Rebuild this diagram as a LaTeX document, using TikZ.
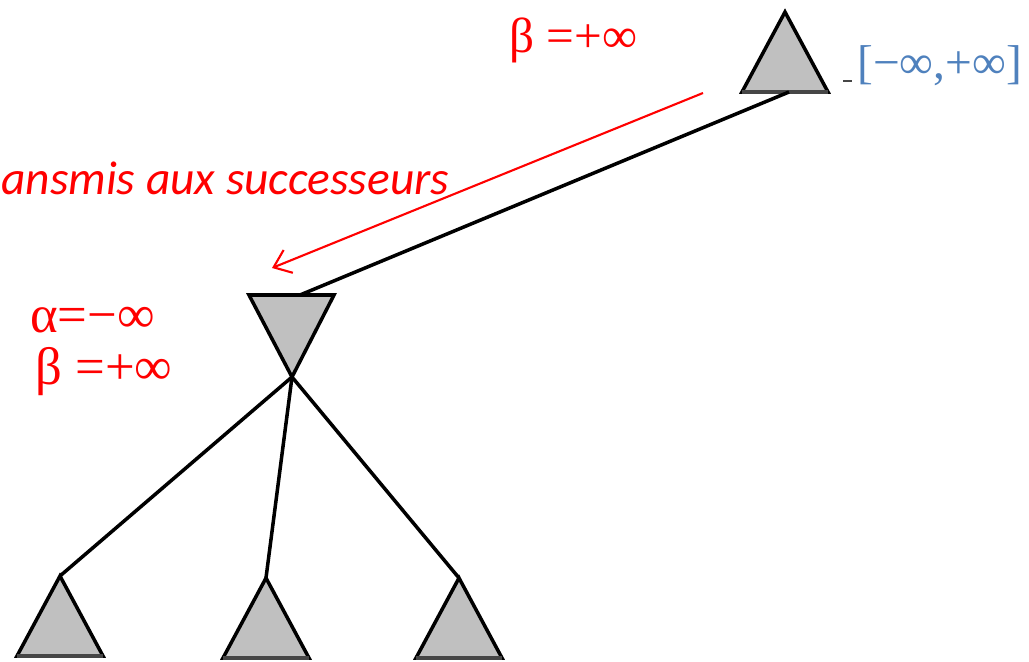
\documentclass[tikz,border=0pt]{standalone}
\usepackage{fontspec}
\setmainfont{Liberation Serif}
\newfontfamily\calib{Carlito}
\usepackage{tikz}
\usetikzlibrary{arrows.meta,calc}
\definecolor{nodegray}{RGB}{192,192,192}
\definecolor{basegray}{RGB}{70,70,70}
\definecolor{bndblue}{RGB}{79,129,189}
\tikzset{
  tri/.style={fill=nodegray,draw=black,line width=2pt,line join=miter},
  edge/.style={black,line width=2pt},
  val/.style={text=red,font=\fontsize{28}{30}\selectfont,inner sep=0pt}
}
% triangle pointing up: name, apex x, apex y
\newcommand{\maxnode}[3]{%
  \coordinate (#1) at (#2,#3);%
  \filldraw[tri] (#1) -- ++(43,80) -- ++(-86,0) -- cycle;%
  \draw[basegray,line width=2.4pt] ($(#1)+(-43,80)$) -- ++(86,0);%
  \coordinate (#1b) at ($(#1)+(4,80)$);%
}
% triangle pointing down: name, apex x, apex y
\newcommand{\minnode}[3]{%
  \coordinate (#1) at (#2,#3);%
  \filldraw[tri] (#1) -- ++(42,-82) -- ++(-85,0) -- cycle;%
  \coordinate (#1t) at ($(#1)+(8,-82)$);%
}

\begin{document}
\begin{tikzpicture}[x=0.02cm,y=-0.02cm]
  \useasboundingbox (0,0) rectangle (1029,662);
  \maxnode{root}{785}{12}
  \minnode{mid}{292}{377}
  \maxnode{c1}{60}{576}
  \maxnode{c2}{266}{578}
  \maxnode{c3}{459}{578}
  \draw[edge] (rootb) -- (midt);
  \draw[edge] (mid) -- (c1);
  \draw[edge] (mid) -- (c2);
  \draw[edge] (mid) -- (c3);
  % arrow beta
  \coordinate (arrfrom) at (703,93);
  \coordinate (arrto) at (272,268);
  \draw[red,line width=1.2pt,-{Straight Barb[length=9pt,width=14pt]}] (arrfrom) -- (arrto);
  \node[val,anchor=west] (betatop) at (509,40) {β =+∞};
  \node[text=red,font=\calib\itshape\fontsize{27}{30}\selectfont,anchor=base west,inner sep=0pt] (trans) at (1,195) {ansmis aux successeurs};
  \node[val,font=\fontsize{30}{32}\selectfont,anchor=west] (alpha) at (30,320) {α=−∞};
  \node[val,font=\fontsize{30}{32}\selectfont,anchor=west] (beta) at (35,372) {β =+∞};
  \draw[basegray,line width=1.2pt] (843,81) -- (852,81);
  \node[val,text=bndblue,font=\fontsize{27}{30}\selectfont,anchor=west] (bounds) at (857,66) {[−∞,+∞]};
\end{tikzpicture}
\end{document}
